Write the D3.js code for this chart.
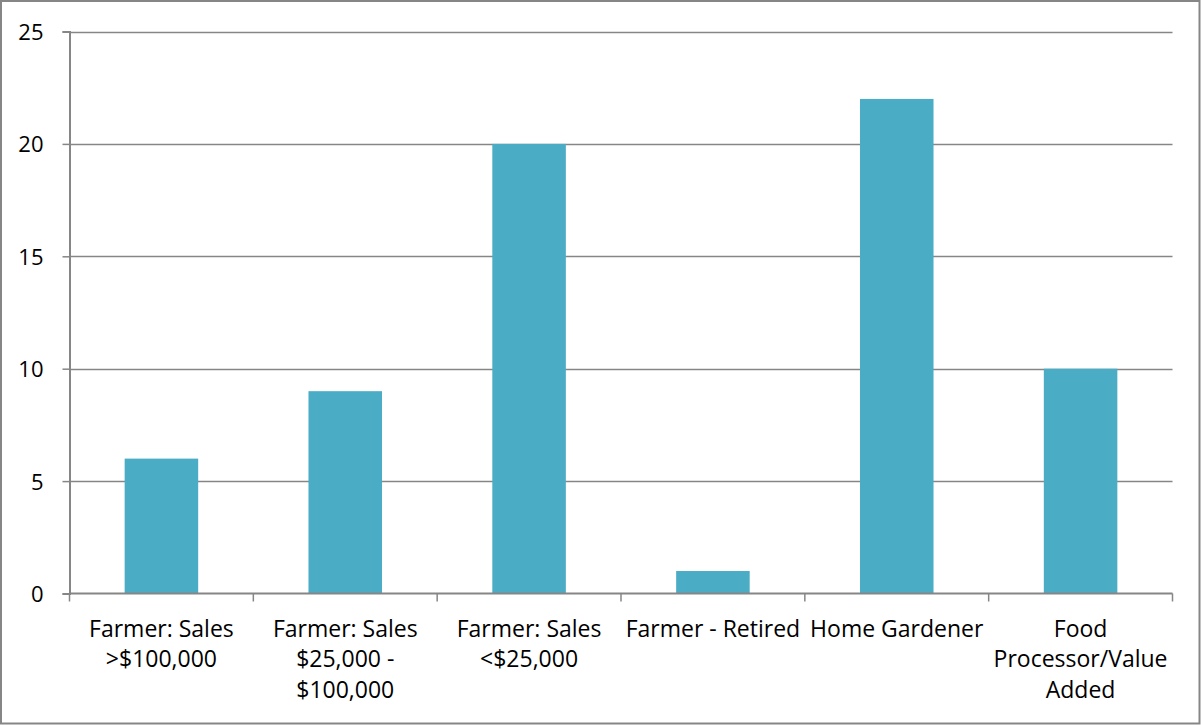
<!DOCTYPE html>
<html>
<head>
<meta charset="utf-8">
<script src="https://cdn.jsdelivr.net/npm/d3@7"></script>
<style>
  html, body { margin: 0; padding: 0; background: #fff; }
  svg { display: block; }
  text { font-family: "Open Sans", sans-serif; fill: #000; }
</style>
</head>
<body>
<svg id="chart" width="1201" height="725"></svg>
<script>
// Respondent types and their counts
const categories = [
  ["Farmer: Sales", ">$100,000"],
  ["Farmer: Sales", "$25,000 -", "$100,000"],
  ["Farmer: Sales", "<$25,000"],
  ["Farmer - Retired"],
  ["Home Gardener"],
  ["Food", "Processor/Value", "Added"]
];
const counts = [6, 9, 20, 1, 22, 10];
const yTicks = [0, 5, 10, 15, 20, 25];

const W = 1201, H = 725;
const margin = { left: 69.5, right: 28.5, top: 31.5, bottom: 131.5 };
const svg = d3.select("#chart");

// Outer frame
svg.append("rect")
  .attr("x", 1).attr("y", 1)
  .attr("width", W - 2.5).attr("height", H - 2.5)
  .attr("fill", "none").attr("stroke", "#868686").attr("stroke-width", 2);

const x = d3.scaleBand()
  .domain(d3.range(categories.length))
  .range([margin.left, W - margin.right])
  .paddingInner(0.6).paddingOuter(0.3);

const y = d3.scaleLinear()
  .domain([0, 25])
  .range([H - margin.bottom, margin.top]);

// Horizontal gridlines
svg.append("g")
  .selectAll("line")
  .data(yTicks.filter(d => d > 0))
  .join("line")
  .attr("x1", margin.left).attr("x2", W - margin.right)
  .attr("y1", d => Math.round(y(d)) + 0.5).attr("y2", d => Math.round(y(d)) + 0.5)
  .attr("stroke", "#868686").attr("stroke-width", 1.5);

// Bars
svg.append("g")
  .selectAll("rect")
  .data(counts)
  .join("rect")
  .attr("x", (d, i) => x(i))
  .attr("width", x.bandwidth())
  .attr("y", d => y(d))
  .attr("height", d => y(0) - y(d))
  .attr("fill", "#4BACC6");

// Y axis
const yAxis = svg.append("g")
  .attr("transform", `translate(${margin.left},0)`)
  .call(d3.axisLeft(y).tickValues(yTicks).tickSize(7).tickPadding(19));
yAxis.select(".domain").attr("stroke", "#868686").attr("stroke-width", 2);
yAxis.selectAll(".tick line").attr("stroke", "#868686").attr("stroke-width", 1.5);
yAxis.selectAll(".tick text")
  .style("font-family", "'Open Sans', sans-serif")
  .style("font-size", "22px").attr("fill", "#000").attr("dy", "0.36em");

// X axis: category boundary ticks
const edges = d3.range(categories.length + 1).map(i => margin.left + i * (W - margin.left - margin.right) / categories.length);
const xg = svg.append("g");
xg.append("line")
  .attr("x1", margin.left).attr("x2", W - margin.right)
  .attr("y1", y(0)).attr("y2", y(0))
  .attr("stroke", "#868686").attr("stroke-width", 2);
xg.selectAll("line.tk")
  .data(edges)
  .join("line").attr("class", "tk")
  .attr("x1", d => d).attr("x2", d => d)
  .attr("y1", y(0)).attr("y2", y(0) + 8)
  .attr("stroke", "#868686").attr("stroke-width", 1.5);

// Category labels
const lab = svg.append("g")
  .selectAll("text")
  .data(categories)
  .join("text")
  .attr("text-anchor", "middle")
  .style("font-size", "23px")
  .attr("x", (d, i) => x(i) + x.bandwidth() / 2)
  .attr("y", y(0) + 43);
lab.selectAll("tspan")
  .data(d => d)
  .join("tspan")
  .attr("x", function () { return d3.select(this.parentNode).attr("x"); })
  .attr("dy", (d, i) => i === 0 ? 0 : 30.5)
  .text(d => d);
</script>
</body>
</html>
